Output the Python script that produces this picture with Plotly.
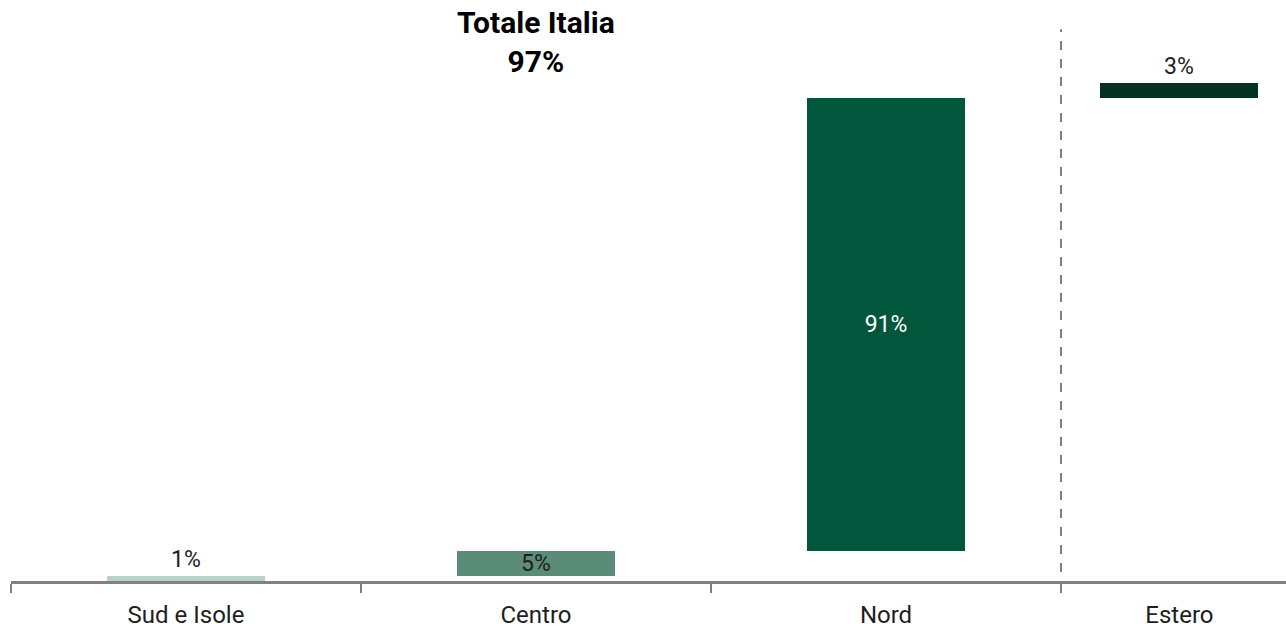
import plotly.graph_objects as go

# Data
it_categories = ["Sud e Isole", "Centro", "Nord"]
it_values = [1, 5, 91]
est_category = ["Estero"]
est_values = [3]
total_label = "Totale Italia"

colors_it = ["#bcd2c7", "#5a8c78", "#02563c"]
color_est = "#033322"

bases_it = [sum(it_values[:i]) for i in range(len(it_values))]
total_it = sum(it_values)
base_est = [total_it]

FONT = "Roboto"
TXT = "#1e1e1e"

fig = go.Figure()
fig.add_trace(go.Bar(
    x=it_categories, y=it_values, base=bases_it,
    marker=dict(color=colors_it, line=dict(width=0)),
    width=0.451,
    text=[f"{v}%" for v in it_values],
    textposition=["outside", "inside", "inside"],
    insidetextanchor="middle",
    constraintext="none",
    textfont=dict(family=FONT, size=23, color=[TXT, TXT, "white"]),
    outsidetextfont=dict(family=FONT, size=23, color=TXT),
    cliponaxis=False,
    xaxis="x", yaxis="y",
    showlegend=False, hoverinfo="skip",
))
fig.add_trace(go.Bar(
    x=est_category, y=est_values, base=base_est,
    marker=dict(color=color_est, line=dict(width=0)),
    width=0.667,
    text=[f"{v}%" for v in est_values],
    textposition="outside",
    constraintext="none",
    textfont=dict(family=FONT, size=23, color=TXT),
    cliponaxis=False,
    xaxis="x2", yaxis="y",
    showlegend=False, hoverinfo="skip",
))

split = (1061 - 11) / 1275.0

axis_common = dict(
    type="category", showline=True, linecolor="#808080", linewidth=2.5,
    ticks="outside", tickson="boundaries", ticklen=9, tickcolor="#808080", tickwidth=2,
    showgrid=False, zeroline=False, automargin=False,
    ticklabelstandoff=10,
    tickfont=dict(family=FONT, size=24, color=TXT),
    fixedrange=True,
)

fig.update_layout(
    width=1286, height=629,
    margin=dict(l=11, r=0, t=0, b=48),
    paper_bgcolor="white", plot_bgcolor="white",
    bargap=0,
    xaxis=dict(domain=[0, split], range=[-0.5, 2.5], **axis_common),
    xaxis2=dict(domain=[split, 1], range=[-0.5, 0.45], anchor="y", **axis_common),
    yaxis=dict(range=[0, 116.7], visible=False, fixedrange=True, automargin=False),
    shapes=[dict(
        type="line", xref="paper", yref="y", x0=split, x1=split, y0=-1.8, y1=110.8,
        line=dict(color="#808080", width=2, dash="dash"),
    )],
    annotations=[dict(
        x=it_categories[1], y=108.2, xref="x", yref="y",
        text=f"<b>{total_label}</b><br><b>{total_it}%</b>",
        showarrow=False, align="center", yanchor="middle",
        font=dict(family=FONT, size=30, color="#000000"),
    )],
)

fig.write_html(
    "out.html",
    config={"displayModeBar": False},
    post_script="document.body.style.margin='0';document.body.style.overflow='hidden';",
)
